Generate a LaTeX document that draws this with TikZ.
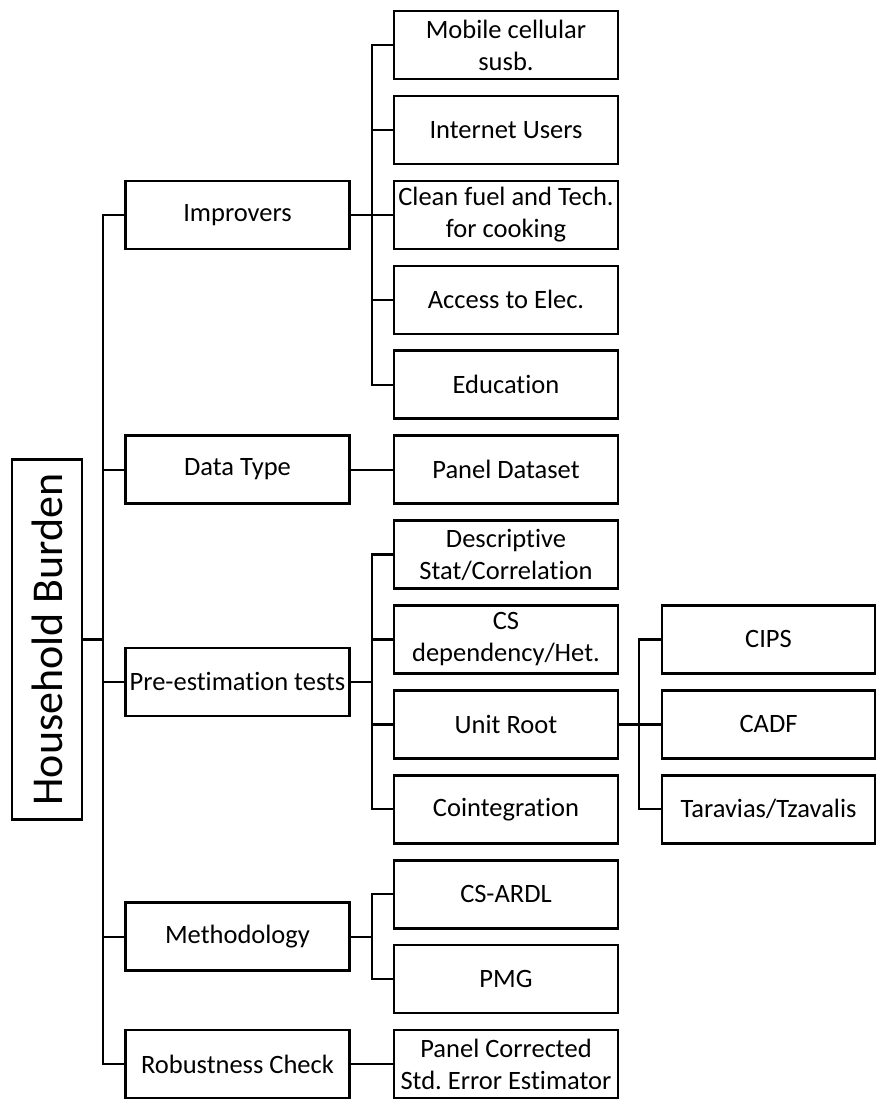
\documentclass[tikz,border=0pt]{standalone}
\usepackage{fontspec}
\setmainfont{Carlito}[Ligatures=NoCommon]
\usetikzlibrary{positioning}
\tikzset{
  box/.style={draw, line width=1.3pt, minimum width=112pt, minimum height=34pt,
    inner sep=1pt, align=center, font=\fontsize{13.25}{16}\selectfont},
  link/.style={line width=1.1pt},
}
\begin{document}
\begin{tikzpicture}[x=0.5pt, y=-0.5pt]
\useasboundingbox (0,0) rectangle (876,1099);
% root
\node[box, minimum width=35pt, minimum height=180pt] (hb) at (47,639.4)
  {\rotatebox{90}{\fontsize{22}{26}\selectfont Household Burden}};
% first level
\node[box] (imp) at (237.5,214.8) {Improvers};
\node[box] (dtype) at (237.5,469.6) {Data Type};
\node[box] (pre) at (237.5,681.9) {Pre-estimation tests};
\node[box] (meth) at (237.5,936.7) {Methodology};
\node[box] (rob) at (237.5,1064) {Robustness Check};
% second level
\node[box] (mob) at (506,45) {Mobile cellular\\susb.};
\node[box] (inet) at (506,129.9) {Internet Users};
\node[box] (fuel) at (506,214.8) {Clean fuel and Tech.\\for cooking};
\node[box] (elec) at (506,299.8) {Access to Elec.};
\node[box] (edu) at (506,384.7) {Education};
\node[box] (panel) at (506,469.6) {Panel Dataset};
\node[box] (desc) at (506,554.5) {Descriptive\\Stat/Correlation};
\node[box] (csd) at (506,639.4) {CS\\dependency/Het.};
\node[box] (unit) at (506,724.4) {Unit Root};
\node[box] (coint) at (506,809.3) {Cointegration};
\node[box] (ardl) at (506,894.2) {CS-ARDL};
\node[box] (pmg) at (506,979.1) {PMG};
\node[box] (pcse) at (506,1064) {Panel Corrected\\Std.\ Error Estimator};
% third level
\node[box, minimum width=106.5pt] (cips) at (768.5,639.4) {CIPS};
\node[box, minimum width=106.5pt] (cadf) at (768.5,724.4) {CADF};
\node[box, minimum width=106.5pt] (tt) at (768.5,809.3) {Taravias/Tzavalis};
% buses
\coordinate (b0) at (103,0);
\coordinate (b1) at (372,0);
\coordinate (b2) at (639,0);
% connectors
\foreach \c in {imp,dtype,pre,meth,rob}
  \draw[link] (hb.east) -- (hb.east -| b0) |- (\c.west);
\foreach \p/\c in {imp/mob, imp/inet, imp/fuel, imp/elec, imp/edu,
    dtype/panel, pre/desc, pre/csd, pre/unit, pre/coint,
    meth/ardl, meth/pmg, rob/pcse}
  \draw[link] (\p.east) -- (\p.east -| b1) |- (\c.west);
\foreach \c in {cips,cadf,tt}
  \draw[link] (unit.east) -- (unit.east -| b2) |- (\c.west);
\end{tikzpicture}
\end{document}
